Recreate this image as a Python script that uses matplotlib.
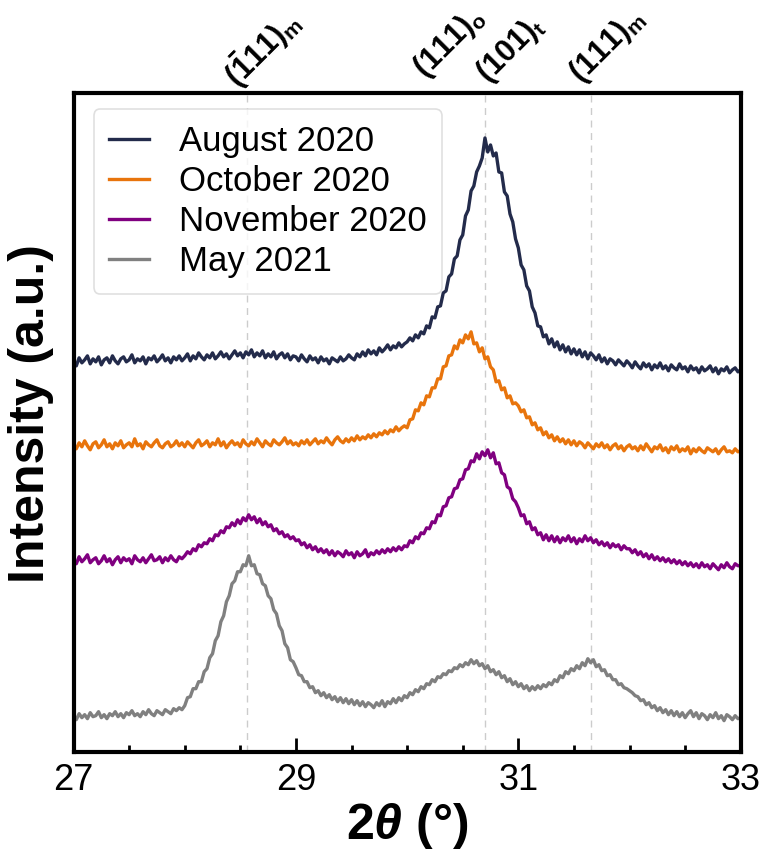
import numpy as np
import matplotlib
matplotlib.use("Agg")
import matplotlib.pyplot as plt

plt.rcParams["font.family"] = ["Liberation Sans", "DejaVu Sans"]
plt.rcParams["mathtext.fontset"] = "custom"
plt.rcParams["mathtext.rm"] = "Liberation Sans:bold"
plt.rcParams["mathtext.bf"] = "Liberation Sans:bold"
plt.rcParams["mathtext.it"] = "Liberation Sans:bold:italic"

# 2-theta grid (degrees): 0.025 deg steps from 27 to 33
two_theta_start = 27.0
two_theta_step = 0.025

labels = ["August 2020", "October 2020", "November 2020", "May 2021"]
colors = ["#232b4b", "#e8740c", "#800080", "#808080"]
offsets = [380, 300, 180, 30]

# raw intensities (a.u.), one row per half degree
aug_2020 = [
    11, 6, 14, 9, 12, 16, 8, 13, 10, 15, 7, 12, 14, 9, 16, 11, 8, 13, 15, 10,
    12, 17, 9, 13, 11, 15, 8, 14, 12, 16, 10, 13, 17, 11, 14, 9, 15, 12, 16, 11,
    14, 18, 11, 16, 13, 19, 15, 12, 17, 14, 19, 13, 16, 20, 15, 18, 13, 17, 21, 16,
    19, 14, 20, 17, 22, 15, 19, 16, 21, 14, 18, 15, 20, 13, 17, 19, 14, 18, 12, 16,
    15, 11, 17, 13, 10, 16, 12, 14, 9, 15, 11, 13, 8, 14, 12, 10, 15, 11, 13, 17,
    14, 12, 18, 15, 20, 16, 22, 18, 21, 17, 24, 20, 23, 27, 22, 26, 24, 29, 25, 28,
    30, 34, 31, 37, 34, 40, 38, 46, 44, 55, 54, 65, 66, 79, 81, 95, 98, 113, 116, 132,
    137, 156, 162, 181, 186, 200, 206, 214, 234, 220, 227, 216, 219, 200, 199, 180, 176, 158, 150, 133,
    124, 107, 102, 86, 81, 65, 59, 46, 45, 35, 37, 28, 33, 25, 30, 22, 27, 20, 25, 18,
    23, 17, 22, 15, 20, 13, 19, 16, 12, 17, 10, 14, 8, 13, 11, 7, 12, 9, 6, 11,
    8, 4, 10, 6, 3, 9, 5, 8, 2, 7, 4, 9, 3, 6, 1, 7, 4, 2, 8, 3,
    5, 0, 6, 2, 4, -1, 5, 1, 3, 6, 0, 4, -2, 3, 1, 5, -1, 2, 4, 0,
    2,
]

oct_2020 = [
    7, 3, 9, 5, 11, 6, 2, 8, 10, 4, 7, 12, 5, 8, 3, 9, 6, 11, 4, 7,
    9, 5, 13, 6, 8, 3, 10, 7, 5, 9, 12, 6, 4, 8, 10, 5, 7, 11, 6, 9,
    5, 10, 7, 4, 9, 12, 6, 8, 11, 5, 9, 7, 13, 6, 10, 4, 8, 11, 7, 9,
    5, 12, 8, 6, 10, 7, 13, 9, 5, 11, 8, 6, 12, 9, 7, 10, 14, 8, 11, 7,
    9, 6, 11, 8, 12, 7, 10, 13, 8, 11, 9, 14, 10, 7, 12, 15, 11, 9, 13, 10,
    14, 11, 16, 12, 15, 13, 17, 14, 18, 15, 19, 17, 21, 18, 22, 20, 25, 21, 24, 26,
    24, 32, 33, 42, 41, 49, 47, 56, 55, 64, 64, 73, 73, 85, 86, 96, 97, 106, 103, 112,
    109, 117, 113, 120, 108, 109, 100, 104, 93, 95, 85, 82, 70, 71, 62, 64, 54, 56, 48, 49,
    46, 40, 42, 34, 35, 27, 29, 22, 24, 17, 20, 14, 17, 11, 15, 10, 13, 8, 12, 7,
    11, 6, 10, 8, 4, 9, 6, 3, 8, 5, 9, 4, 7, 2, 6, 8, 3, 6, 1, 5,
    7, 3, 5, 1, 6, 2, 8, 4, 0, 5, 3, 7, 1, 4, -1, 5, 2, 6, 0, 3,
    1, 5, -2, 3, 0, 4, 1, -1, 4, 2, 0, 3, -2, 2, 5, 0, 1, -1, 3, 0,
    1,
]

nov_2020 = [
    12, 8, 15, 10, 13, 17, 9, 12, 14, 8, 11, 16, 10, 13, 7, 12, 15, 9, 14, 11,
    13, 8, 16, 12, 10, 14, 9, 13, 17, 11, 12, 15, 9, 14, 11, 16, 12, 10, 15, 13,
    16, 20, 18, 23, 21, 27, 25, 29, 28, 33, 31, 37, 36, 41, 39, 45, 44, 49, 46, 52,
    48, 54, 51, 57, 52, 55, 49, 53, 47, 50, 45, 47, 41, 43, 38, 40, 35, 37, 33, 35,
    31, 32, 27, 29, 24, 27, 22, 25, 20, 23, 19, 22, 17, 21, 16, 20, 18, 15, 21, 17,
    19, 14, 20, 16, 18, 22, 15, 19, 17, 21, 18, 22, 19, 23, 20, 24, 21, 25, 22, 26,
    25, 31, 29, 35, 33, 39, 38, 44, 43, 50, 49, 57, 56, 65, 66, 74, 75, 83, 84, 92,
    93, 102, 103, 111, 110, 118, 113, 120, 116, 122, 114, 119, 108, 109, 99, 97, 85, 83, 73, 70,
    64, 56, 57, 48, 50, 42, 44, 37, 39, 32, 37, 31, 36, 30, 35, 29, 34, 31, 36, 30,
    34, 28, 33, 30, 36, 31, 34, 29, 32, 27, 30, 26, 29, 24, 28, 25, 27, 22, 26, 23,
    23, 19, 22, 17, 20, 15, 18, 13, 17, 12, 15, 11, 14, 10, 13, 9, 12, 8, 11, 7,
    10, 6, 9, 5, 8, 4, 9, 5, 7, 3, 8, 5, 2, 7, 4, 9, 5, 3, 8, 6,
    6,
]

may_2021 = [
    5, 2, 8, 4, 7, 3, 9, 5, 6, 10, 4, 7, 3, 8, 6, 10, 5, 8, 4, 9,
    7, 11, 6, 8, 5, 10, 7, 12, 8, 6, 11, 9, 7, 12, 10, 8, 13, 11, 14, 12,
    16, 24, 25, 33, 33, 40, 40, 50, 53, 64, 68, 81, 86, 100, 106, 120, 126, 138, 141, 150,
    150, 157, 156, 166, 156, 157, 148, 147, 138, 136, 126, 123, 112, 108, 96, 91, 78, 74, 62, 60,
    54, 47, 46, 40, 40, 34, 35, 29, 31, 26, 29, 24, 27, 22, 25, 20, 24, 19, 23, 18,
    22, 17, 21, 16, 20, 15, 19, 17, 14, 19, 16, 21, 15, 20, 18, 23, 19, 24, 21, 26,
    24, 29, 27, 32, 30, 35, 33, 38, 37, 42, 40, 45, 44, 48, 47, 51, 50, 54, 53, 57,
    55, 59, 57, 62, 58, 61, 56, 58, 53, 56, 50, 52, 47, 50, 44, 46, 40, 43, 37, 40,
    35, 38, 33, 36, 31, 35, 32, 36, 33, 37, 35, 39, 37, 42, 40, 46, 44, 50, 48, 53,
    51, 56, 53, 59, 56, 63, 59, 62, 55, 57, 51, 52, 46, 47, 42, 42, 37, 38, 34, 33,
    31, 29, 26, 25, 21, 22, 17, 19, 14, 16, 11, 14, 9, 12, 7, 11, 6, 10, 5, 9,
    4, 8, 11, 5, 9, 3, 8, 6, 2, 7, 4, 9, 3, 6, 1, 7, 5, 2, 6, 3,
    4,
]

series = [aug_2020, oct_2020, nov_2020, may_2021]

# reflection positions (2-theta) and their labels
ref_positions = [28.56, 30.70, 31.65]
ref_labels = [r"$(\bar{1}11)_{\mathrm{m}}$", r"$(111)_{\mathrm{o}}$",
              r"$(101)_{\mathrm{t}}$", r"$(111)_{\mathrm{m}}$"]
ref_label_x = [28.28, 30.00, 30.565, 31.40]
ref_label_y = [0.997, 1.012, 1.004, 1.004]

fig = plt.figure(figsize=(7.66, 8.61), dpi=100)
ax = fig.add_axes([0.096, 0.127, 0.871, 0.765])

for pos in ref_positions:
    ax.axvline(pos, color="#cccccc", ls=(0, (5, 4)), lw=1.0, zorder=0)

for vals, lab, col, off in zip(series, labels, colors, offsets):
    v = np.asarray(vals, dtype=float)
    x = two_theta_start + two_theta_step * np.arange(len(v))
    ax.plot(x, v + off, color=col, lw=2.4, label=lab)

ax.set_xlim(27, 33)
ax.set_ylim(0, 659)
ax.set_xticks([27, 29, 31, 33])
ax.set_xticks(np.arange(27, 33.01, 0.5), minor=True)
ax.set_yticks([])
ax.tick_params(axis="x", which="major", direction="in", length=10, width=2,
               labelsize=26, pad=8)
ax.tick_params(axis="x", which="minor", direction="in", length=5, width=2)
for s in ax.spines.values():
    s.set_linewidth(3)

ax.set_xlabel(r"$\mathbf{2}\theta$ (°)", fontsize=36, fontweight="bold", labelpad=2)
ax.set_ylabel("Intensity (a.u.)", fontsize=36, fontweight="bold")
ax.yaxis.set_label_coords(-0.03, 0.514)

for lx, ly, lt in zip(ref_label_x, ref_label_y, ref_labels):
    ax.text(lx, ly, lt, transform=ax.get_xaxis_transform(), rotation=45,
            ha="left", va="bottom", fontsize=22)

leg = ax.legend(loc="upper left", fontsize=25, handlelength=1.15, handletextpad=0.85,
                labelspacing=0.2, borderpad=0.45, borderaxespad=0,
                bbox_to_anchor=(0.03, 0.975), frameon=True, fancybox=True)
leg.get_frame().set_edgecolor("#d8d8d8")
leg.get_frame().set_linewidth(1.2)

fig.savefig("out.png", dpi=100)
